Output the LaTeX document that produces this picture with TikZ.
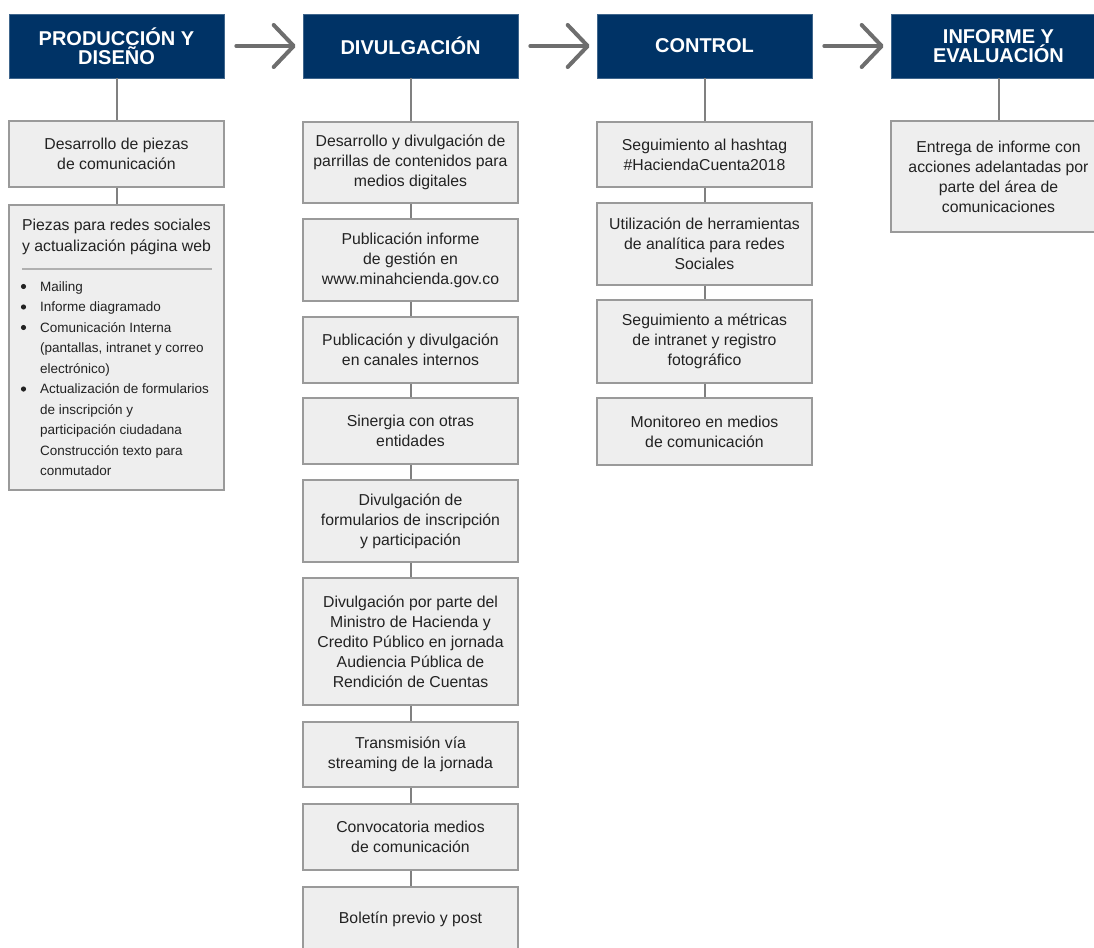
\documentclass[tikz,border=0pt]{standalone}
\usepackage{fontspec}
\setmainfont{Liberation Sans}
\usetikzlibrary{arrows.meta}
\definecolor{navy}{HTML}{003366}
\definecolor{boxfill}{HTML}{EEEEEE}
\definecolor{boxline}{HTML}{9A9A9A}
\definecolor{conncol}{HTML}{808080}
\definecolor{arrcol}{HTML}{6E6E6E}
\definecolor{txt}{HTML}{222222}
\definecolor{sepcol}{HTML}{B0B0B0}
\begin{document}
\begin{tikzpicture}[x=1pt,y=-1pt,
  head/.style={fill=navy, draw=navy!75!white, line width=0.6pt, minimum width=215pt, minimum height=64pt, inner sep=0pt, align=center, text=white, font=\fontsize{20}{18.5}\selectfont\bfseries},
  box/.style={fill=boxfill, draw=boxline, line width=1.5pt, minimum width=215pt, inner sep=0pt, align=center, text=txt, font=\fontsize{15.8}{20}\selectfont},
  conn/.style={draw=conncol, line width=2pt},
  flow/.style={draw=arrcol, line width=4pt, line cap=round, -{Straight Barb[length=20pt,width=42pt,round]}},
  li/.style={anchor=base west, inner sep=0pt, text=txt, font=\fontsize{13.5}{20}\selectfont},
  ttl/.style={inner sep=0pt, align=center, text=txt, font=\fontsize{15.8}{21.5}\selectfont},
]
\useasboundingbox (0,0) rectangle (1094,947);
\clip (0,0) rectangle (1094,947);

% headers
\node[head] (h1) at (116.5,46) {PRODUCCIÓN Y\\DISEÑO};
\node[head] (h2) at (410.5,46) {DIVULGACIÓN};
\node[head] (h3) at (704.5,46) {CONTROL};
\node[head] (h4) at (998.5,46) {INFORME Y\\EVALUACIÓN};

% flow arrows
\draw[flow] ([xshift=12pt]h1.east) -- ([xshift=-7pt]h2.west);
\draw[flow] ([xshift=12pt]h2.east) -- ([xshift=-7pt]h3.west);
\draw[flow] ([xshift=12pt]h3.east) -- ([xshift=-7pt]h4.west);

% column 1
\node[box, minimum height=66pt] (b11) at (116.5,154) {Desarrollo de piezas\\de comunicación};
\node[box, minimum height=285pt] (b12) at (116.5,347.5) {};
\node[ttl] (b12t) at (116.5,237) {Piezas para redes sociales\\y actualización página web};
\draw[sepcol, line width=1.5pt] (22,269) -- (212,269);
\node[li] (l1) at (40,291) {Mailing};
\node[li] (l2) at (40,311.5) {Informe diagramado};
\node[li] (l3) at (40,332) {Comunicación Interna};
\node[li] (l4) at (40,352.5) {(pantallas, intranet y correo};
\node[li] (l5) at (40,373) {electrónico)};
\node[li] (l6) at (40,393.5) {Actualización de formularios};
\node[li] (l7) at (40,414) {de inscripción y};
\node[li] (l8) at (40,434.5) {participación ciudadana};
\node[li] (l9) at (40,455) {Construcción texto para};
\node[li] (l10) at (40,475.5) {conmutador};
\foreach \yy in {291, 311.5, 332, 393.5}
  \fill[txt] (23.5,\yy-4.5) circle (2.6pt);

% column 2
\node[box, minimum height=81pt] (b21) at (410.5,162.5) {Desarrollo y divulgación de\\parrillas de contenidos para\\medios digitales};
\node[box, minimum height=82pt] (b22) at (410.5,260) {Publicación informe\\de gestión en\\www.minahcienda.gov.co};
\node[box, minimum height=66pt] (b23) at (410.5,350) {Publicación y divulgación\\en canales internos};
\node[box, minimum height=66pt] (b24) at (410.5,431) {Sinergia con otras\\entidades};
\node[box, minimum height=82pt] (b25) at (410.5,521) {Divulgación de\\formularios de inscripción\\y participación};
\node[box, minimum height=127pt] (b26) at (410.5,641.5) {Divulgación por parte del\\Ministro de Hacienda y\\Credito Público en jornada\\Audiencia Pública de\\Rendición de Cuentas};
\node[box, minimum height=65pt] (b27) at (410.5,754.5) {Transmisión vía\\streaming de la jornada};
\node[box, minimum height=66pt] (b28) at (410.5,837) {Convocatoria medios\\de comunicación};
\node[box, minimum height=64pt] (b29) at (410.5,919) {Boletín previo y post};

% column 3
\node[box, minimum height=65pt] (b31) at (704.5,154.5) {Seguimiento al hashtag\\\#HaciendaCuenta2018};
\node[box, minimum height=82pt] (b32) at (704.5,244) {Utilización de herramientas\\de analítica para redes\\Sociales};
\node[box, minimum height=83pt] (b33) at (704.5,341.5) {Seguimiento a métricas\\de intranet y registro\\fotográfico};
\node[box, minimum height=67pt] (b34) at (704.5,431.5) {Monitoreo en medios\\de comunicación};

% column 4
\node[box, minimum height=111pt] (b41) at (998.5,176.5) {Entrega de informe con\\acciones adelantadas por\\parte del área de\\comunicaciones};

% connectors
\draw[conn] (h1.south) -- (b11.north);
\draw[conn] (b11.south) -- (b12.north);
\draw[conn] (h2.south) -- (b21.north);
\draw[conn] (b21.south) -- (b22.north);
\draw[conn] (b22.south) -- (b23.north);
\draw[conn] (b23.south) -- (b24.north);
\draw[conn] (b24.south) -- (b25.north);
\draw[conn] (b25.south) -- (b26.north);
\draw[conn] (b26.south) -- (b27.north);
\draw[conn] (b27.south) -- (b28.north);
\draw[conn] (b28.south) -- (b29.north);
\draw[conn] (h3.south) -- (b31.north);
\draw[conn] (b31.south) -- (b32.north);
\draw[conn] (b32.south) -- (b33.north);
\draw[conn] (b33.south) -- (b34.north);
\draw[conn] (h4.south) -- (b41.north);
\end{tikzpicture}
\end{document}
